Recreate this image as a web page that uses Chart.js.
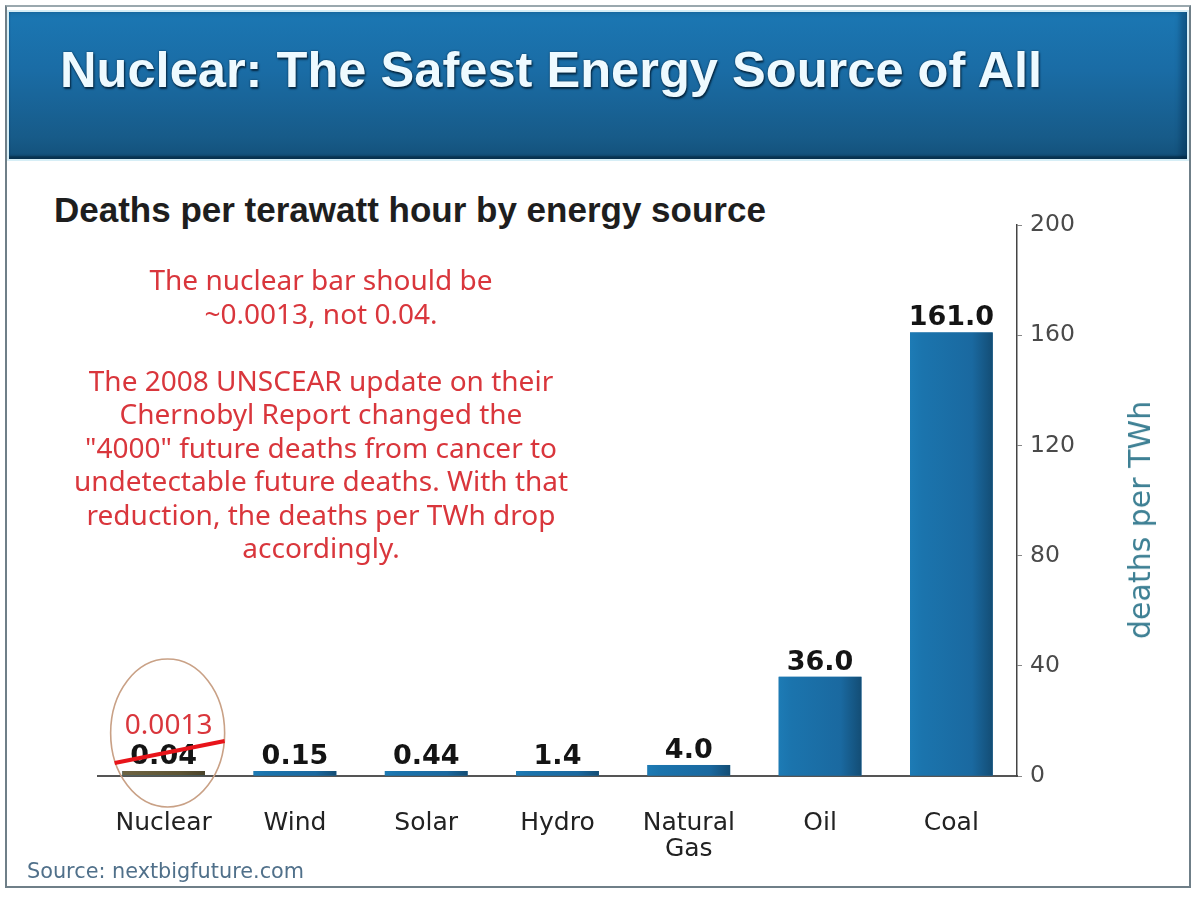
<!DOCTYPE html>
<html><head><meta charset="utf-8">
<script src="https://cdn.jsdelivr.net/npm/chart.js@4.4.1/dist/chart.umd.min.js"></script>
<style>
html,body{margin:0;padding:0;background:#fff;}
body{width:1200px;height:899px;position:relative;overflow:hidden;}
#frame{position:absolute;left:5px;top:5px;width:1186px;height:883px;box-sizing:border-box;border:2px solid #6f7f88;border-top-color:#9aa8ae;}
#banner{position:absolute;left:9px;top:12px;width:1178px;height:147px;background:linear-gradient(#1b77b3,#1a6ca5 40%,#175b89 85%,#13507a);box-shadow:inset 0 -3px 2px rgba(0,30,50,.55), inset -7px 0 5px rgba(0,40,70,.35);outline:2px solid #d6eef6;}
#title{position:absolute;left:60px;top:45px;font:bold 50.6px/50px "Liberation Sans",Arial,sans-serif;color:#eefaff;text-shadow:0 0 2px #083050,1px 2px 2px #05253d;white-space:nowrap;}
#subtitle{position:absolute;left:54px;top:193px;font:bold 35px/34px "Liberation Sans",Arial,sans-serif;color:#1e1e1e;white-space:nowrap;}
#note{position:absolute;left:21px;top:263px;width:600px;text-align:center;font:28px/33.5px "Noto Sans",sans-serif;color:#d9363c;white-space:nowrap;}
#source{position:absolute;left:27px;top:861px;font:20.8px/20px "DejaVu Sans",sans-serif;color:#50708a;white-space:nowrap;}
#ytitle{position:absolute;left:1140px;top:520px;transform:translate(-50%,-50%) rotate(-90deg);font:30px/30px "DejaVu Sans",sans-serif;color:#3e8094;white-space:nowrap;}
#c{position:absolute;left:0;top:0;}
</style></head>
<body>
<div id="frame"></div>
<div id="banner"></div>
<div id="title">Nuclear: The Safest Energy Source of All</div>
<div id="subtitle">Deaths per terawatt hour by energy source</div>
<canvas id="c" width="1200" height="899"></canvas>
<div id="note">The nuclear bar should be<br>~0.0013, not 0.04.<br><br>The 2008 UNSCEAR update on their<br>Chernobyl Report changed the<br>"4000" future deaths from cancer to<br>undetectable future deaths. With that<br>reduction, the deaths per TWh drop<br>accordingly.</div>
<div id="ytitle">deaths per TWh</div>
<div id="source">Source: nextbigfuture.com</div>
<script>
const categories = ['Nuclear', 'Wind', 'Solar', 'Hydro', ['Natural', 'Gas'], 'Oil', 'Coal'];
const deathsPerTWh = [0.04, 0.15, 0.44, 1.4, 4.0, 36.0, 161.0];
const correctedNuclear = 0.0013;
const yTicks = [0, 40, 80, 120, 160, 200];

function fmt(v){ return v < 1 ? v.toFixed(2) : v.toFixed(1); }

const barStyle = {
  id: 'barStyle',
  afterDatasetsDraw(chart){
    const ctx = chart.ctx;
    const meta = chart.getDatasetMeta(0);
    meta.data.forEach((el, i) => {
      const p = el.getProps(['x','y','base','width'], true);
      const l = p.x - p.width/2, t = Math.min(p.y, p.base), b = Math.max(p.y, p.base);
      const g = ctx.createLinearGradient(l, 0, l + p.width, 0);
      if (i === 0) {
        g.addColorStop(0, '#6e6442'); g.addColorStop(0.7, '#5d5434'); g.addColorStop(1, '#4a432a');
      } else {
        g.addColorStop(0, '#1d7bb5'); g.addColorStop(0.15, '#1b74ad'); g.addColorStop(0.75, '#1a69a0'); g.addColorStop(1, '#134d75');
      }
      ctx.save();
      ctx.fillStyle = g;
      ctx.fillRect(l, t, p.width, b - t);
      ctx.font = 'bold 27px "DejaVu Sans", sans-serif';
      ctx.fillStyle = '#141414';
      ctx.textAlign = 'center';
      ctx.textBaseline = 'alphabetic';
      ctx.fillText(fmt(deathsPerTWh[i]), p.x, t - 7);
      ctx.restore();
    });
  },
  afterDraw(chart){
    const ctx = chart.ctx;
    const el = chart.getDatasetMeta(0).data[0];
    const p = el.getProps(['x','y','base'], true);
    const top = Math.min(p.y, p.base);
    ctx.save();
    ctx.strokeStyle = '#c9a186';
    ctx.lineWidth = 1.6;
    ctx.beginPath();
    ctx.ellipse(p.x + 4, top - 38, 57, 74, 0, 0, Math.PI * 2);
    ctx.stroke();
    ctx.strokeStyle = '#e8141a';
    ctx.lineWidth = 4;
    ctx.beginPath();
    ctx.moveTo(p.x - 49, top - 8);
    ctx.lineTo(p.x + 61, top - 30);
    ctx.stroke();
    ctx.font = '28px "Noto Sans", sans-serif';
    ctx.fillStyle = '#d9363c';
    ctx.textAlign = 'center';
    ctx.textBaseline = 'alphabetic';
    ctx.fillText(String(correctedNuclear), p.x + 5, top - 37);
    ctx.restore();
  }
};

new Chart(document.getElementById('c'), {
  type: 'bar',
  data: {
    labels: categories,
    datasets: [{
      data: deathsPerTWh,
      backgroundColor: '#1a6ca3',
      borderWidth: 0,
      barPercentage: 0.63,
      categoryPercentage: 1,
      minBarLength: 5
    }]
  },
  options: {
    responsive: false,
    animation: false,
    events: [],
    layout: { padding: { left: 98, top: 225, right: 0, bottom: 0 } },
    plugins: { legend: { display: false }, tooltip: { enabled: false }, title: { display: false } },
    scales: {
      x: {
        grid: { display: false },
        border: { display: true, color: '#555', width: 2 },
        ticks: { color: '#222', padding: 26, font: { family: 'DejaVu Sans', size: 25, lineHeight: 1.04 }, maxRotation: 0, autoSkip: false },
        afterFit(s){ s.height = 123; }
      },
      y: {
        position: 'right',
        min: 0, max: 200,
        afterBuildTicks(s){ s.ticks = yTicks.map(v => ({ value: v })); },
        grid: { display: true, drawOnChartArea: false, tickLength: 5, color: '#888' },
        border: { display: true, color: '#444', width: 1.5 },
        ticks: { color: '#4a4a4a', padding: 8, font: { family: 'DejaVu Sans', size: 23.5 } },
        afterFit(s){ s.width = 183; }
      }
    }
  },
  plugins: [barStyle]
});
</script>
</body></html>
